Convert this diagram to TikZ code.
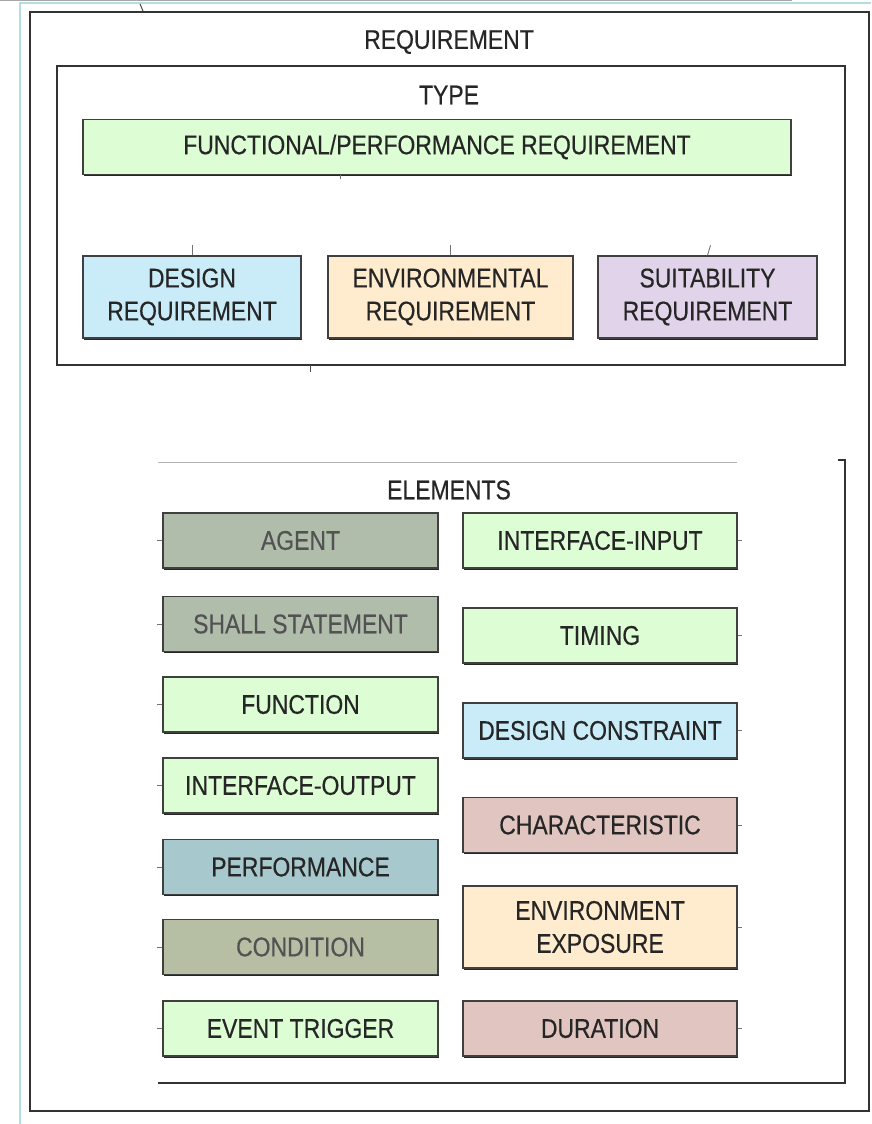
\documentclass[tikz,border=0pt]{standalone}
\usepackage{fontspec}
\setmainfont{Liberation Sans}[FakeStretch=0.85, FakeBold=0.4]
\usetikzlibrary{shadows}

\definecolor{fgreen}{HTML}{DDFDD5}
\definecolor{fblue}{HTML}{C9ECF8}
\definecolor{forange}{HTML}{FFEBCD}
\definecolor{fviolet}{HTML}{E0D3EA}
\definecolor{fsage}{HTML}{B1BDAB}
\definecolor{fteal}{HTML}{A7C9CE}
\definecolor{folive}{HTML}{B6BFA4}
\definecolor{frose}{HTML}{E0C5C1}
\definecolor{cyanline}{HTML}{B5DDE0}

\tikzset{
  lbl/.style={font=\fontsize{27}{33}\selectfont, text=black!85, align=center, inner sep=0pt},
  elem/.style={lbl, draw=black!75, line width=1.4pt,
    minimum width=275pt, minimum height=55pt,
    drop shadow={shadow xshift=0.9pt, shadow yshift=-1.8pt, fill=black!85, opacity=1}},
  faded/.style={text=black!68},
  stub/.style={draw=black!55, line width=0.9pt},
  frame/.style={draw=black!80, line width=1.7pt},
}

\begin{document}
\begin{tikzpicture}[x=1pt,y=-1pt]
  \useasboundingbox (0,0) rectangle (871,1124);

  % page edges
  \draw[black!35, line width=1pt] (0,0.5) -- (792,0.5);
  \draw[cyanline, line width=1.3pt] (20,1124) -- (20,3) -- (871,3);
  \draw[black!70, line width=1pt] (140,4) -- (143,11);

  % outer frame and type frame
  \draw[frame] (30,12) rectangle (869,1111);
  \draw[frame] (57,66) rectangle (845,365);
  \draw[black!70, line width=1pt] (310,365) -- (310,372);

  % headings
  \node[lbl] (req)  at (449,42)  {REQUIREMENT};
  \node[lbl] (type) at (449,95)  {TYPE};
  \node[lbl] (els)  at (449,490) {ELEMENTS};

  % requirement types
  \node[elem, fill=fgreen, minimum width=708pt] (func) at (437,147) {FUNCTIONAL/PERFORMANCE REQUIREMENT};
  \node[elem, fill=fblue,    minimum width=218pt, minimum height=82pt] (design) at (192,297) {DESIGN\\REQUIREMENT};
  \node[elem, fill=forange,  minimum width=245pt, minimum height=82pt] (envr)   at (450.5,297) {ENVIRONMENTAL\\REQUIREMENT};
  \node[elem, fill=fviolet,  minimum width=219pt, minimum height=82pt] (suit)   at (707.5,297) {SUITABILITY\\REQUIREMENT};

  \draw[stub] (func.south -| 340,0) -- ++(0,4);
  \draw[stub] (design.north) -- ++(0,-10);
  \draw[stub] (envr.north) -- ++(0,-10);
  \draw[stub] (suit.north) -- ++(3,-10);

  % elements frame
  \draw[black!30, line width=1pt] (158,462) -- (737,462);
  \draw[frame] (838,460) -- (845,460) -- (845,1083) -- (158,1083);

  % element boxes, left column
  \node[elem, fill=fsage, faded]  (agent) at (300.5,540.5) {AGENT};
  \node[elem, fill=fsage, faded]  (shall) at (300.5,624)   {SHALL STATEMENT};
  \node[elem, fill=fgreen]        (fn)    at (300.5,704.5) {FUNCTION};
  \node[elem, fill=fgreen]        (iout)  at (300.5,785.5) {INTERFACE-OUTPUT};
  \node[elem, fill=fteal]         (perf)  at (300.5,867)   {PERFORMANCE};
  \node[elem, fill=folive, faded] (cond)  at (300.5,947)   {CONDITION};
  \node[elem, fill=fgreen]        (evt)   at (300.5,1028.5){EVENT TRIGGER};

  % element boxes, right column
  \node[elem, fill=fgreen,  minimum width=274pt] (iin)    at (600,540.5) {INTERFACE-INPUT};
  \node[elem, fill=fgreen,  minimum width=274pt] (timing) at (600,635.5) {TIMING};
  \node[elem, fill=fblue,   minimum width=274pt] (dcon)   at (600,730.5) {DESIGN CONSTRAINT};
  \node[elem, fill=frose,   minimum width=274pt] (chr)    at (600,825)   {CHARACTERISTIC};
  \node[elem, fill=forange, minimum width=274pt, minimum height=82pt] (envx) at (600,927) {ENVIRONMENT\\EXPOSURE};
  \node[elem, fill=frose,   minimum width=274pt] (dur)    at (600,1028.5){DURATION};

  % connector stubs
  \foreach \n in {agent,shall,fn,iout,perf,cond,evt}
    \draw[stub] (\n.west) -- ++(-5,0);
  \foreach \n in {iin,timing,dcon,chr,envx,dur}
    \draw[stub] (\n.east) -- ++(4,0);
\end{tikzpicture}
\end{document}
